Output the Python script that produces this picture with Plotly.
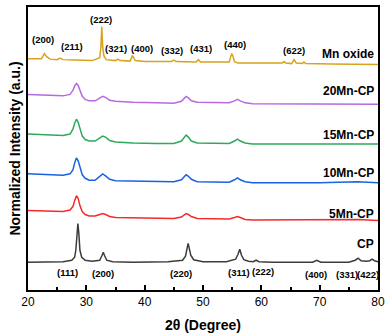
import plotly.graph_objects as go

# ---------------- data (2θ in degrees, stacked normalized intensity, a.u.) ----------------
x_cp = [20, 26, 27.5, 28.0, 28.2, 28.4, 28.55, 28.7, 28.9, 29.2, 29.8, 31, 32.3, 32.7, 32.9, 33.1,
        33.5, 34.5, 38, 44, 46.5, 47.0, 47.25, 47.45, 47.65, 47.9, 48.4, 50, 54, 55.6, 56.0, 56.3,
        56.6, 57.0, 57.8, 58.6, 59.1, 59.6, 62, 68.8, 69.5, 70.2, 75, 76.1, 76.6, 77.1, 78, 78.6,
        79.0, 79.4, 80]
y_cp = [28, 28.5, 30, 33, 40, 58, 67, 58, 40, 33, 30, 29, 30, 35, 38, 35,
        30, 28.5, 28, 28.5, 30, 34, 42, 47, 42, 35, 30.5, 28.5, 28.5, 31, 36, 41,
        35, 30.5, 29, 28.5, 30, 28.5, 28, 28, 30, 28, 28, 30, 32, 29.5, 29, 29.5,
        31, 29.5, 28.5]

x_mncp = [20, 23, 26, 27.2, 27.7, 28.0, 28.3, 28.6, 28.9, 29.3, 29.8, 30.5, 31.5, 32.3, 32.8,
          33.3, 34.0, 35, 38, 42, 45, 46.3, 46.8, 47.1, 47.5, 48.0, 49, 52, 54.5, 55.4, 55.9,
          56.4, 57.2, 58.5, 62, 70, 76.5, 80]
y_5mn = [80, 79.5, 79, 80.5, 84, 90, 95, 92, 85, 79, 76, 74.5, 74.5, 76, 77,
         76, 74, 73, 72.5, 72, 72, 73.5, 76, 77, 76, 74, 72, 71.5, 71.5, 73, 74,
         73, 71, 70.5, 70.5, 70.5, 71, 70]
y_10mn = [117, 116.5, 115.5, 117, 121, 128, 133, 130, 123, 116, 112.5, 110.5, 110.5, 114, 117,
          115, 111.5, 110, 109.5, 109, 109, 111, 114.5, 116, 114.5, 111.5, 109, 108.5, 108.5, 111, 113,
          111, 109, 108, 108, 108, 109, 108]
y_15mn = [157, 156.5, 155.5, 157, 162, 168, 172, 169, 162, 155, 151.5, 150, 150, 153, 155,
          154, 150.5, 149, 148, 147.5, 147.5, 150, 154, 156, 154, 150, 148, 147.5, 147.5, 150, 152,
          150, 148, 147, 147, 147, 147.5, 147]
y_20mn = [197, 196.5, 195.5, 197, 201, 205.5, 208, 206, 201, 195, 192, 190.5, 190.5, 193, 195,
          194, 191, 190, 189, 188.5, 188, 190, 193.5, 195, 193.5, 190.5, 189, 188.5, 188.5, 190.5, 192,
          190.5, 188.5, 187.5, 187.5, 187.5, 187.5, 187]

x_mnox = [20, 22.3, 22.8, 23.2, 23.8, 25.0, 25.5, 26.0, 28, 31, 32.3, 32.5, 32.65, 32.8, 33.0,
          33.4, 35.0, 35.4, 35.8, 37.5, 37.9, 38.1, 38.4, 40, 44.6, 45.0, 45.4, 48.8, 49.2, 49.6,
          53, 54.5, 54.9, 55.1, 55.4, 56, 58, 63.6, 63.9, 64.2, 65.2, 65.6, 66.0, 67.0, 67.3,
          67.6, 72, 80]
y_mnox = [233, 233, 238, 235, 232.5, 232, 233.5, 232, 231.5, 231, 234, 245, 265, 245, 236,
          232, 231, 232.5, 231, 230.5, 236, 234, 231, 230, 230, 231.5, 230, 229.5, 232, 229.5,
          229, 229.5, 238, 236, 230, 228.5, 228.5, 228.5, 230, 228.5, 228, 232, 228.5, 228, 229.5,
          228, 227.5, 227]

series_names = ["CP", "5Mn-CP", "10Mn-CP", "15Mn-CP", "20Mn-CP", "Mn oxide"]
series_label_y = [46, 77, 118, 156, 200, 238]

hkl_mnox = ["(200)", "(211)", "(222)", "(321)", "(400)", "(332)", "(431)", "(440)", "(622)"]
hkl_mnox_x = [22.5, 27.5, 32.5, 35.1, 39.5, 44.6, 49.7, 55.4, 65.6]
hkl_mnox_y = [252, 245, 272, 243, 243, 241, 243, 247, 241]

hkl_cp = ["(111)", "(200)", "(220)", "(311)", "(222)", "(400)", "(331)", "(422)"]
hkl_cp_x = [26.8, 32.9, 46.3, 56.2, 60.2, 69.4, 74.7, 78.2]
hkl_cp_y = [18, 17, 17, 18, 19, 16, 16, 16]

# ---------------- figure ----------------
FONT = "Liberation Sans, Arial, sans-serif"
colors = ["#3c3c3c", "#f52a2a", "#1a62e0", "#2ea85a", "#b56ae0", "#d8a21c"]
xs = [x_cp, x_mncp, x_mncp, x_mncp, x_mncp, x_mnox]
ys = [y_cp, y_5mn, y_10mn, y_15mn, y_20mn, y_mnox]

fig = go.Figure()
for name, x, y, c in zip(series_names, xs, ys, colors):
    fig.add_trace(go.Scatter(x=x, y=y, mode="lines", name=name,
                             line=dict(color=c, width=1.5), showlegend=False))

for name, ly in zip(series_names, series_label_y):
    fig.add_annotation(x=79.6, y=ly, text=name, showarrow=False, xanchor="right",
                       yanchor="middle", font=dict(family=FONT, size=12, color="black", weight="bold"))

for t, x, y in zip(hkl_mnox, hkl_mnox_x, hkl_mnox_y):
    fig.add_annotation(x=x, y=y, text=t, showarrow=False, xanchor="center", yanchor="middle",
                       font=dict(family=FONT, size=9.5, color="black", weight="bold"))
for t, x, y in zip(hkl_cp, hkl_cp_x, hkl_cp_y):
    fig.add_annotation(x=x, y=y, text=t, showarrow=False, xanchor="center", yanchor="middle",
                       font=dict(family=FONT, size=9.5, color="black", weight="bold"))

fig.update_layout(
    width=390, height=336,
    margin=dict(l=28, r=8, t=5, b=46),
    paper_bgcolor="white", plot_bgcolor="white",
    font=dict(family=FONT, color="black"),
    xaxis=dict(range=[20, 80], dtick=10, tick0=20, ticks="inside", ticklen=5, tickwidth=1.5,
               tickcolor="black", showline=True, linecolor="black", linewidth=2, mirror=True,
               showgrid=False, zeroline=False,
               tickfont=dict(family=FONT, size=12, color="black"),
               minor=dict(dtick=5, ticks="inside", ticklen=3, tickwidth=1.5, tickcolor="black"),
               title=dict(text="2θ (Degree)", standoff=12,
                          font=dict(family=FONT, size=14, color="black", weight="bold"))),
    yaxis=dict(range=[0, 285], showticklabels=False, ticks="", showline=True, linecolor="black",
               linewidth=2, mirror=True, showgrid=False, zeroline=False,
               title=dict(text="Normalized Intensity (a.u.)", standoff=2,
                          font=dict(family=FONT, size=14, color="black", weight="bold"))),
)

fig.write_html("out.html", config={"displayModeBar": False},
               post_script="document.body.style.margin='0';")
